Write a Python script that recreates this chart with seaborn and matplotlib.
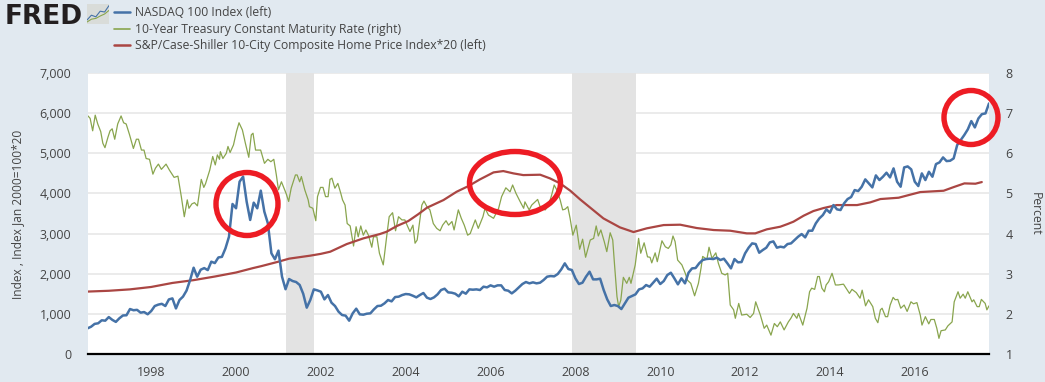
import numpy as np
import pandas as pd
import seaborn as sns
import matplotlib
matplotlib.use("Agg")
import matplotlib.pyplot as plt
from matplotlib.lines import Line2D
from matplotlib.patches import Ellipse
from matplotlib.transforms import IdentityTransform

# ---------- data ----------
nasdaq_start = 1996.5   # monthly series
nasdaq_values = [
 640,680,750,765,840,830,920,850,800,890,960,965,1120,1090,1100,1030,1045,990,1070,1195,
 1230,1250,1195,1360,1385,1135,1345,1430,1580,1840,2150,1925,2100,2140,2090,2300,2265,2405,2420,2630,
 2920,3737,3630,4293,4418,3795,3339,3770,3630,4069,3546,3256,2509,2360,2575,1928,1613,1867,1818,1793,
 1720,1500,1154,1345,1610,1585,1552,1361,1469,1278,1195,1054,971,955,830,1013,1129,988,979,1004,
 1013,1112,1195,1203,1262,1345,1311,1419,1428,1469,1494,1486,1452,1411,1469,1519,1403,1370,1411,1486,
 1594,1627,1535,1527,1502,1436,1552,1502,1610,1602,1610,1594,1677,1660,1710,1677,1710,1710,1594,1577,
 1510,1577,1660,1743,1793,1760,1785,1760,1776,1843,1926,1942,1934,1992,2108,2258,2117,2092,1884,1743,
 1776,1926,2050,1859,1859,1876,1594,1361,1195,1220,1195,1120,1262,1403,1444,1486,1610,1635,1718,1677,
 1776,1876,1743,1818,1967,2025,1884,1735,1884,1760,2025,2133,2141,2258,2341,2365,2374,2365,2399,2341,
 2374,2258,2133,2365,2283,2291,2507,2648,2756,2739,2523,2590,2648,2781,2805,2648,2673,2656,2739,2756,
 2839,2922,2988,2905,3071,3071,3254,3378,3461,3603,3520,3710,3603,3586,3752,3860,3910,4084,4059,4167,
 4350,4250,4150,4449,4333,4416,4516,4399,4624,4292,4167,4648,4673,4599,4292,4184,4499,4333,4540,4416,
 4731,4773,4897,4806,4814,4872,5205,5329,5454,5595,5802,5644,5868,5976,5993,6242]

home_years = [1996.5,1997.0,1997.5,1998.0,1998.5,1999.0,1999.5,2000.0,2000.4,2000.6,2001.0,2001.25,2001.75,
 2002.0,2002.22,2002.61,2003.0,2003.39,2003.55,2003.79,2004.06,2004.30,2004.5,2004.89,2005.2,2005.48,2005.75,
 2006.07,2006.3,2006.54,2006.77,2007.17,2007.4,2007.64,2007.88,2008.11,2008.66,2009.05,2009.37,2009.68,2010.08,
 2010.47,2010.86,2011.26,2011.65,2012.04,2012.24,2012.51,2012.83,2013.0,2013.14,2013.38,2013.61,2013.85,2014.16,
 2014.64,2014.95,2015.19,2015.62,2015.89,2016.13,2016.68,2016.92,2017.17,2017.43,2017.58]
home_values = [1555,1575,1610,1670,1770,1840,1930,2030,2140,2190,2300,2375,2450,
 2495,2548,2739,2880,2988,3046,3188,3312,3486,3644,3835,4042,4184,4350,
 4524,4557,4499,4457,4466,4375,4250,4067,3852,3378,3154,3038,3130,3212,
 3221,3138,3088,3071,3005,3005,3105,3171,3237,3296,3445,3561,3636,3710,
 3710,3777,3860,3893,3968,4034,4067,4159,4250,4242,4283]

tsy_years = [1996.51,1996.56,1996.62,1996.68,1996.74,1996.81,1996.86,1996.91,1996.98,1997.03,1997.08,1997.14,1997.21,
 1997.29,1997.35,1997.41,1997.49,1997.58,1997.65,1997.70,1997.77,1997.83,1997.88,1997.96,1998.04,1998.10,1998.17,
 1998.24,1998.35,1998.43,1998.54,1998.63,1998.71,1998.78,1998.85,1998.89,1998.96,1999.02,1999.09,1999.18,1999.24,
 1999.28,1999.38,1999.45,1999.51,1999.56,1999.61,1999.63,1999.69,1999.77,1999.81,1999.86,1999.94,2000.01,2000.07,
 2000.15,2000.22,2000.30,2000.36,2000.40,2000.46,2000.58,2000.67,2000.75,2000.82,2000.89,2000.95,2001.00,2001.07,
 2001.13,2001.18,2001.24,2001.30,2001.40,2001.44,2001.50,2001.54,2001.62,2001.70,2001.73,2001.81,2001.88,2001.92,
 2001.99,2002.05,2002.11,2002.17,2002.215,2002.26,2002.33,2002.40,2002.47,2002.51,2002.57,2002.62,2002.69,2002.77,
 2002.83,2002.88,2002.94,2003.00,2003.06,2003.12,2003.20,2003.24,2003.32,2003.38,2003.47,2003.55,2003.61,2003.69,
 2003.76,2003.83,2003.91,2003.98,2004.04,2004.10,2004.17,2004.22,2004.27,2004.38,2004.43,2004.50,2004.57,2004.65,
 2004.73,2004.81,2004.87,2004.95,2005.01,2005.09,2005.14,2005.24,2005.31,2005.38,2005.46,2005.52,2005.64,2005.71,
 2005.82,2005.87,2005.95,2006.07,2006.19,2006.26,2006.36,2006.46,2006.52,2006.60,2006.70,2006.78,2006.81,2006.91,
 2006.97,2007.11,2007.18,2007.29,2007.37,2007.44,2007.50,2007.56,2007.64,2007.70,2007.76,2007.82,
 2007.875,2007.94,2008.02,2008.10,2008.17,2008.24,2008.35,2008.43,2008.49,2008.54,2008.60,2008.68,2008.74,2008.82,
 2008.88,2008.92,2008.98,2009.02,2009.07,2009.13,2009.21,2009.27,2009.31,2009.41,2009.49,2009.54,2009.62,2009.70,
 2009.76,2009.80,2009.88,2009.93,2010.04,2010.12,2010.19,2010.25,2010.30,2010.35,2010.41,2010.51,2010.59,2010.64,
 2010.72,2010.81,2010.90,2010.96,2011.00,2011.10,2011.15,2011.22,2011.31,2011.37,2011.45,2011.53,2011.59,2011.65,
 2011.73,2011.77,2011.85,2011.92,2012.04,2012.12,2012.20,2012.25,2012.36,2012.45,2012.51,2012.61,2012.69,2012.76,
 2012.83,2012.92,2013.02,2013.08,2013.14,2013.22,2013.26,2013.36,2013.46,2013.52,2013.57,2013.64,2013.71,2013.75,
 2013.81,2013.87,2013.91,2013.97,2014.05,2014.13,2014.20,2014.32,2014.46,2014.52,2014.62,2014.71,2014.76,2014.84,
 2014.91,2015.01,2015.07,2015.13,2015.19,2015.23,2015.31,2015.36,2015.42,2015.49,2015.54,2015.60,2015.67,2015.75,
 2015.82,2015.91,2015.97,2016.05,2016.13,2016.17,2016.25,2016.33,2016.38,2016.46,2016.52,2016.57,2016.62,2016.72,
 2016.78,2016.88,2016.93,2017.02,2017.07,2017.14,2017.19,2017.25,2017.35,2017.39,2017.47,2017.52,2017.57,2017.66,
 2017.70,2017.75]
tsy_values = [6.93,6.87,6.56,6.95,6.73,6.54,6.25,6.14,6.40,6.56,6.61,6.35,6.73,
 6.93,6.76,6.73,6.46,6.12,6.35,6.35,6.08,6.08,5.87,5.85,5.48,5.63,5.73,
 5.60,5.73,5.58,5.40,5.43,4.92,4.42,4.84,4.63,4.74,4.77,4.69,5.35,5.15,
 5.24,5.58,5.92,5.71,5.96,5.85,6.04,5.87,6.00,6.17,6.02,6.21,6.54,6.76,
 6.58,6.25,5.90,6.46,6.50,6.08,6.08,5.75,5.85,5.79,5.85,5.46,5.09,5.29,
 5.13,5.00,4.80,5.13,5.46,5.46,5.29,5.42,5.09,4.84,4.67,4.63,4.32,4.92,
 5.15,5.15,4.92,4.92,5.35,5.38,5.13,5.25,5.00,4.84,4.71,4.25,4.19,3.69,
 4.17,3.92,4.19,3.96,4.09,3.96,3.66,3.92,3.92,3.51,3.22,3.92,4.42,4.52,
 4.07,4.42,4.34,4.34,4.19,4.05,4.21,3.76,3.84,4.71,4.81,4.67,4.59,4.25,
 4.13,4.07,4.21,4.32,4.21,4.30,4.09,4.59,4.38,4.21,3.96,4.00,4.34,4.13,
 4.42,4.63,4.46,4.38,4.63,4.92,5.14,5.04,5.21,5.00,4.79,4.63,4.79,4.59,
 4.71,4.85,4.63,4.59,4.71,4.96,5.21,5.09,4.84,4.59,4.61,4.67,
 4.38,3.96,4.21,3.61,3.86,3.41,3.84,3.88,4.19,3.94,4.09,3.80,3.55,4.02,
 3.84,3.26,2.43,2.18,2.34,2.91,2.76,2.91,2.76,3.22,3.88,3.51,3.77,3.42,
 3.41,3.27,3.52,3.30,3.82,3.67,3.63,3.72,3.94,3.80,3.34,3.22,3.01,2.84,
 2.76,2.45,2.76,3.13,3.43,3.36,3.66,3.38,3.52,3.26,3.01,2.97,3.01,2.22,
 2.10,1.89,2.26,1.97,1.99,1.91,2.01,2.30,1.97,1.64,1.72,1.47,1.76,1.68,
 1.80,1.60,1.80,1.89,2.01,1.89,2.01,1.72,2.14,2.55,2.64,2.61,2.93,2.93,
 2.64,2.55,2.72,2.80,3.01,2.72,2.72,2.74,2.51,2.61,2.53,2.39,2.59,2.20,
 2.35,2.18,1.89,1.78,2.10,2.14,1.93,1.93,2.22,2.41,2.35,2.36,2.14,2.22,
 2.06,2.30,2.25,2.28,1.97,1.72,1.93,1.75,1.86,1.86,1.64,1.39,1.58,1.60,
 1.70,1.80,2.30,2.55,2.39,2.49,2.39,2.55,2.30,2.35,2.18,2.18,2.36,2.26,
 2.10,2.20]

recession_starts = [2001.18, 2007.92]
recession_ends = [2001.84, 2009.42]

left_ticks = [0,1000,2000,3000,4000,5000,6000,7000]
right_ticks = [1,2,3,4,5,6,7,8]
year_ticks = list(range(1998, 2018, 2))
names = ["NASDAQ 100 Index (left)", "10-Year Treasury Constant Maturity Rate (right)",
         "S&P/Case-Shiller 10-City Composite Home Price Index*20 (left)"]

BLUE, GREEN, RED = "#4572a7", "#89a54e", "#aa4643"
BG, TXT = "#e1e9f0", "#444444"
MARK = "#ed1c24"

sns.set_theme(style="white")
plt.rcParams["font.family"] = ["Open Sans", "DejaVu Sans"]

W, H = 1045, 382
fig = plt.figure(figsize=(W/100, H/100), dpi=100, facecolor=BG)
L, R, T, B = 88, 989, 73, 354
axr = fig.add_axes([L/W, 1-B/H, (R-L)/W, (B-T)/H], facecolor="white", zorder=1)
axl = fig.add_axes([L/W, 1-B/H, (R-L)/W, (B-T)/H], facecolor="none", zorder=2)

nasdaq_years = nasdaq_start + np.arange(len(nasdaq_values))/12
df_n = pd.DataFrame({"year": nasdaq_years, "v": nasdaq_values})
df_h = pd.DataFrame({"year": home_years, "v": home_values})
df_t = pd.DataFrame({"year": tsy_years, "v": tsy_values})

for s, e in zip(recession_starts, recession_ends):
    axr.axvspan(s, e, color="#e3e3e3", lw=0, zorder=1)
sns.lineplot(data=df_t, x="year", y="v", ax=axr, color=GREEN, lw=0.9, errorbar=None, zorder=3)
sns.lineplot(data=df_h, x="year", y="v", ax=axl, color=RED, lw=1.6, errorbar=None, zorder=3)
sns.lineplot(data=df_n, x="year", y="v", ax=axl, color=BLUE, lw=1.8, errorbar=None, zorder=4)

xlim = (1996.51, 2017.75)
axl.set_xlim(xlim); axr.set_xlim(xlim)
axl.set_ylim(0, 7000); axr.set_ylim(1, 8)

axr.yaxis.set_label_position("right"); axr.yaxis.tick_right()
axr.set_yticks(right_ticks); axr.set_yticklabels([str(t) for t in right_ticks])
axl.set_yticks(left_ticks); axl.set_yticklabels([f"{t:,}" for t in left_ticks])
axr.grid(True, axis="y", color="#e6e6e6", lw=1.1, zorder=0)
axr.grid(False, axis="x"); axl.grid(False)
axr.set_axisbelow(True)
axr.set_xticks([]); axr.set_xlabel("")
axl.set_xticks(year_ticks); axl.set_xticklabels([str(y) for y in year_ticks])
for a in (axl, axr):
    for sp in a.spines.values():
        sp.set_visible(False)
axl.spines["bottom"].set_visible(True)
axl.spines["bottom"].set_color("black")
axl.spines["bottom"].set_linewidth(1.6)
axl.tick_params(axis="x", length=5, width=0.8, color="#c0d0e0", labelsize=9, labelcolor=TXT, pad=4)
axl.tick_params(axis="y", length=0, labelsize=9, labelcolor=TXT, pad=12)
axr.tick_params(axis="y", length=0, labelsize=9, labelcolor=TXT, pad=12)
axl.set_xlabel(""); axl.set_ylabel(""); axr.set_ylabel("")
fig.text(18/W, 1-214/H, "Index , Index Jan 2000=100*20", rotation=90, ha="center", va="center", fontsize=8.6, color=TXT)
fig.text(1035/W, 1-214/H, "Percent", rotation=270, ha="center", va="center", fontsize=8.8, color=TXT)

# legend
handles = [Line2D([], [], color=c, lw=lw) for c, lw in ((BLUE, 1.8), (GREEN, 1.2), (RED, 1.8))]
fig.legend(handles, names, loc="upper left", bbox_to_anchor=(114/W, 1-6/H), frameon=False, borderpad=0,
           borderaxespad=0, handlelength=1.32, handletextpad=0.42, labelspacing=0.31, fontsize=8.7, labelcolor=TXT)

# logo
fig.text(5/W, 1-17/H, "FRED", fontsize=19, fontweight="bold", family="DejaVu Sans", color="#231f20", ha="left", va="center")
logo_x = [0, 1, 2, 3, 4, 5]
logo_a = [1, 2.2, 1.8, 3.2, 3.0, 4.6]
logo_b = [0.5, 1.2, 1.4, 2.0, 2.5, 3.4]
axi = fig.add_axes([87/W, 1-24/H, 22/W, 20/H], facecolor="#d9dcd9", zorder=3)
sns.lineplot(x=logo_x, y=logo_a, ax=axi, color=BLUE, lw=0.8, errorbar=None)
sns.lineplot(x=logo_x, y=logo_b, ax=axi, color=GREEN, lw=0.8, errorbar=None)
axi.set_xlim(0, 5); axi.set_ylim(0, 5); axi.set_xticks([]); axi.set_yticks([]); axi.set_xlabel(""); axi.set_ylabel("")
for sp in axi.spines.values():
    sp.set_visible(False)

# hand-drawn red circles
for cx, cy, w, h in ((247, 204, 62, 63), (515, 183, 91, 63), (971, 117.5, 54, 54)):
    fig.add_artist(Ellipse((cx, H-cy), w, h, fill=False, ec=MARK, lw=3.9, transform=IdentityTransform(), zorder=10))

fig.savefig("out.png", dpi=100, facecolor=BG)
